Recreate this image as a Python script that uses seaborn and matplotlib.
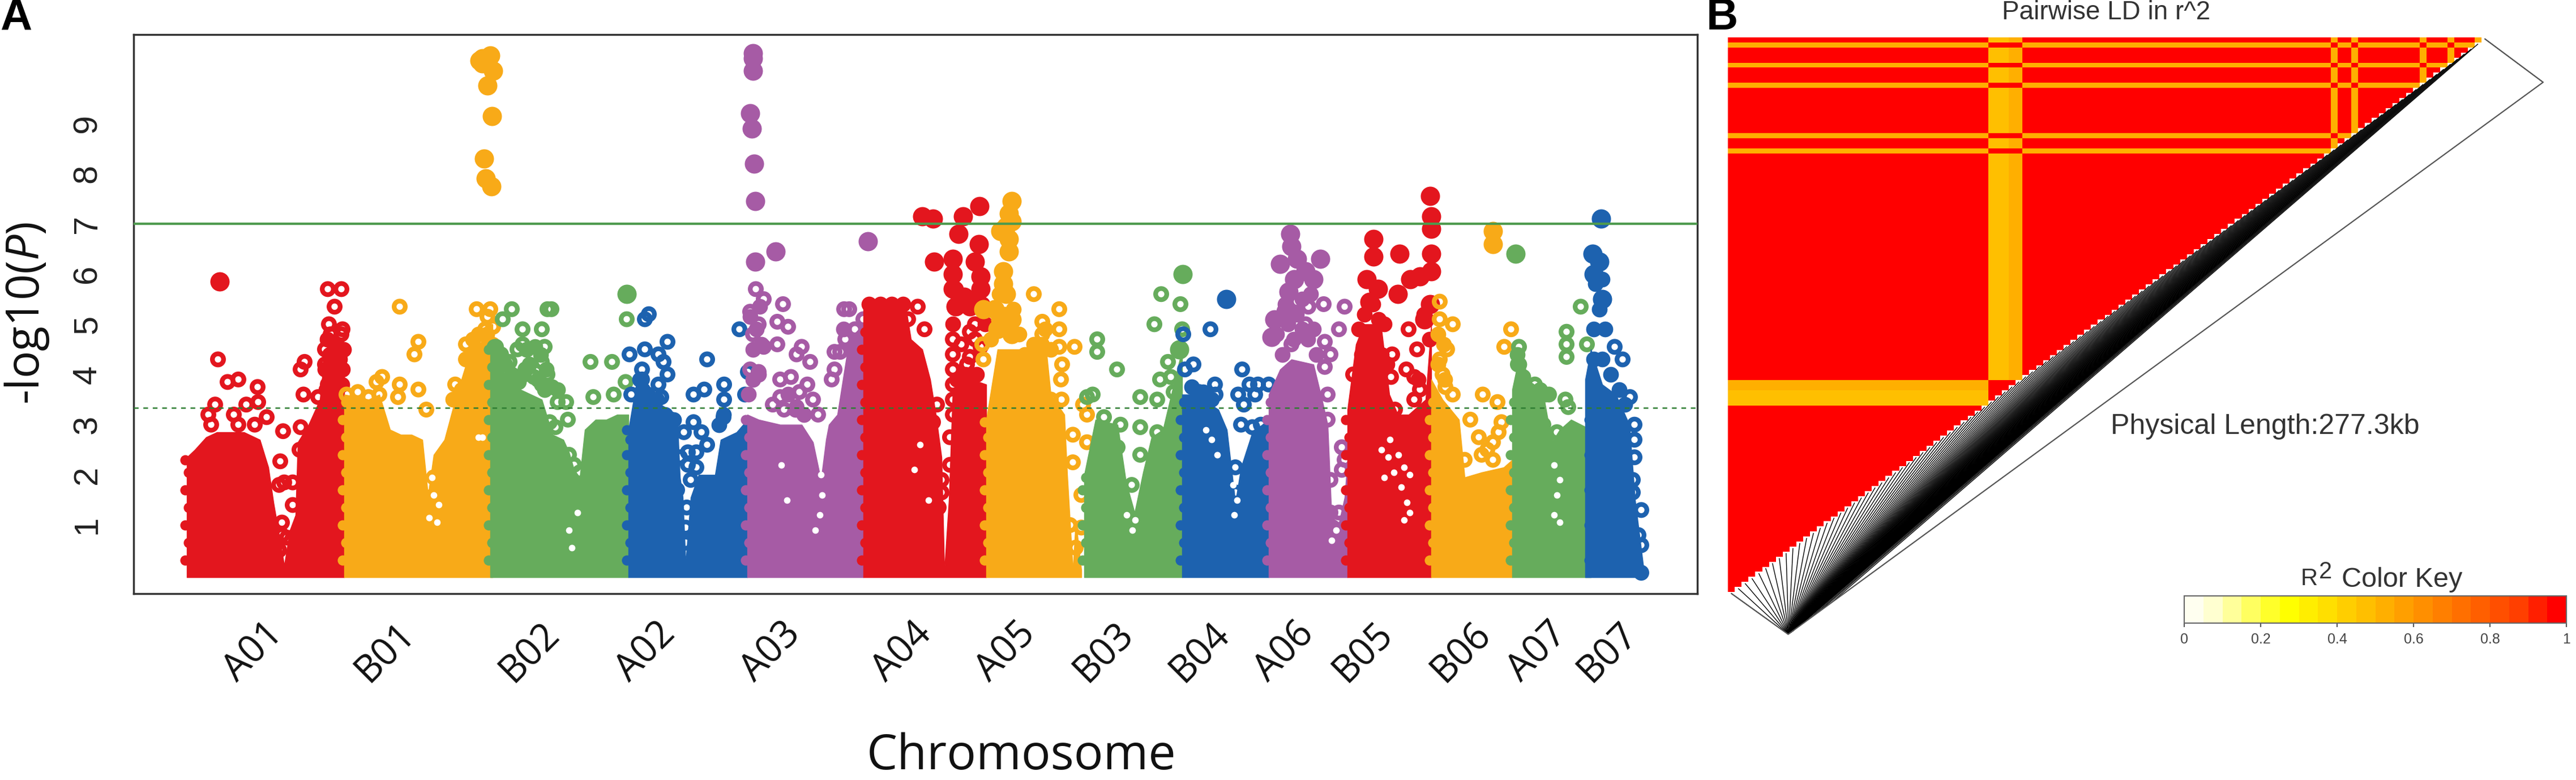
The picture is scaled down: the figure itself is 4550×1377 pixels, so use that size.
import numpy as np
import pandas as pd
import matplotlib
matplotlib.use('Agg')
import matplotlib.pyplot as plt
from matplotlib.colors import ListedColormap
import seaborn as sns

sns.set_theme(style='white')
plt.rcParams['font.family'] = ['Liberation Sans', 'DejaVu Sans']
plt.rcParams['mathtext.fontset'] = 'custom'
plt.rcParams['mathtext.it'] = 'Open Sans:italic'
plt.rcParams['mathtext.rm'] = 'Open Sans'

W, H = 4550, 1377

# Chromosome labels and where they sit along the genome axis
chrom_labels = ['A01', 'B01', 'B02', 'A02', 'A03', 'A04', 'A05', 'B03', 'B04', 'A06', 'B05', 'B06', 'A07', 'B07']
chrom_ticks = [448, 681, 936, 1141, 1362, 1594, 1777, 1950, 2120, 2269, 2408, 2581, 2716, 2840]
chrom_colors = ['#E3161E', '#F8AA18', '#66AC5C', '#1D62AF', '#A65BA5', '#E3161E', '#F8AA18',
                '#66AC5C', '#1D62AF', '#A65BA5', '#E3161E', '#F8AA18', '#66AC5C', '#1D62AF']

# Height of the dense mass of SNPs per chromosome
a01_pos = [330, 344, 364, 383, 402, 431, 459, 474, 483, 493, 502, 512, 522, 526, 545, 565, 574, 593, 608]
a01_top = [2.35, 2.5, 2.75, 2.85, 2.85, 2.85, 2.7, 2.15, 1.45, 0.8, 0.2, 0.9, 1.2, 2.65, 3.0, 3.5, 4.5, 4.7, 4.5]
b01_pos = [608, 632, 651, 670, 689, 708, 727, 746, 756, 766, 785, 804, 823, 842, 861, 870]
b01_top = [3.6, 3.55, 3.5, 3.6, 2.9, 2.8, 2.8, 2.7, 1.6, 2.4, 2.7, 3.5, 4.2, 4.4, 5.0, 5.0]
b02_pos = [866, 880, 900, 919, 938, 957, 976, 995, 1005, 1014, 1024, 1033, 1052, 1071, 1090, 1110]
b02_top = [4.6, 4.2, 3.9, 3.7, 3.6, 3.5, 2.8, 2.7, 2.45, 2.1, 1.95, 2.9, 3.1, 3.1, 3.2, 3.2]
a02_pos = [1110, 1119, 1148, 1167, 1196, 1201, 1206, 1211, 1220, 1234, 1263, 1273, 1301, 1320]
a02_top = [2.9, 3.5, 3.7, 3.4, 3.2, 1.95, 1.55, 0.25, 1.55, 2.0, 2.0, 2.7, 2.85, 3.1]
a03_pos = [1320, 1340, 1378, 1416, 1436, 1450, 1459, 1464, 1479, 1500, 1525]
a03_top = [3.2, 3.1, 3.0, 3.0, 2.65, 1.9, 2.7, 3.0, 3.2, 4.7, 5.0]
a04_pos = [1525, 1530, 1599, 1609, 1629, 1643, 1653, 1663, 1668, 1676, 1683, 1698, 1717, 1742]
a04_top = [5.3, 5.4, 5.4, 4.7, 4.5, 3.9, 3.2, 2.35, 0.1, 1.5, 3.7, 3.8, 3.9, 3.8]
a05_pos = [1742, 1762, 1797, 1816, 1846, 1856, 1880, 1885, 1895, 1900, 1910]
a05_top = [3.1, 4.5, 4.5, 4.5, 4.7, 3.6, 3.2, 2.0, 0.1, 1.1, 0.1]
b03_pos = [1915, 1935, 1974, 1989, 2004, 2019, 2034, 2054, 2073, 2088]
b03_top = [2.0, 3.1, 3.0, 1.85, 1.25, 2.05, 2.75, 2.9, 3.8, 4.5]
b04_pos = [2088, 2113, 2152, 2167, 2182, 2192, 2212, 2241]
b04_top = [3.6, 3.6, 3.3, 2.9, 1.45, 2.15, 2.85, 3.1]
a06_pos = [2241, 2261, 2281, 2320, 2335, 2345, 2352, 2365, 2375, 2380]
a06_top = [3.6, 4.1, 4.3, 4.2, 3.5, 3.0, 1.15, 1.05, 1.55, 2.3]
b05_pos = [2380, 2395, 2409, 2439, 2454, 2469, 2488, 2518, 2528]
b05_top = [3.3, 4.6, 5.0, 5.0, 3.6, 3.2, 3.2, 3.5, 5.0]
b06_pos = [2528, 2548, 2577, 2587, 2617, 2656, 2671]
b06_top = [3.9, 3.5, 3.1, 1.95, 2.05, 2.15, 2.3]
a07_pos = [2671, 2686, 2701, 2726, 2741, 2755, 2775, 2810]
a07_top = [3.7, 4.5, 3.8, 3.6, 2.65, 2.9, 3.1, 2.9]
b07_pos = [2800, 2810, 2830, 2854, 2878, 2888, 2904]
b07_top = [3.9, 4.5, 3.8, 3.6, 3.0, 1.5, 0.05]

# Single SNPs that stand clear of the mass (open circles)
a01_snp_pos = [385, 402, 421, 455, 380, 368, 373, 413, 435, 456, 471, 450, 421, 500, 495, 531, 538, 536, 562, 531, 529,
               502, 517, 493, 517, 498, 498, 507, 493, 579, 581, 605, 579, 603, 591, 574, 593, 584, 603, 574, 598, 584, 603]
a01_snp_log = [4.3, 3.85, 3.9, 3.75, 3.4, 3.2, 3.0, 3.2, 3.4, 3.45, 3.15, 3.0, 3.0, 2.87, 2.27, 4.1, 4.25, 3.6, 3.55, 2.95, 2.5,
               1.85, 1.85, 1.8, 1.4, 1.05, 0.8, 0.75, 0.5, 3.8, 5.0, 4.9, 5.7, 5.7, 5.35, 4.5, 4.6, 4.3, 4.5, 4.2, 4.2, 4.8, 4.8]
b01_snp_pos = [706, 739, 732, 675, 706, 665, 703, 739, 753, 632, 612, 651, 670, 627, 651, 766, 775, 756, 770,
               823, 842, 857, 871, 851, 823, 842, 804, 866, 861]
b01_snp_log = [5.35, 4.65, 4.4, 3.95, 3.8, 3.85, 3.55, 3.7, 3.3, 3.65, 3.6, 3.55, 3.6, 3.05, 3.05, 1.95, 2.0, 1.55, 1.3,
               4.6, 5.3, 4.9, 4.95, 4.7, 4.3, 4.2, 3.8, 5.3, 5.15]
b02_snp_pos = [904, 888, 876, 885, 900, 923, 957, 967, 974, 923, 962, 957, 928, 943, 967, 957, 914, 1000, 985, 1003,
               981, 1043, 1081, 1048, 1084, 1105, 1107, 1005, 1024, 1014, 957, 971]
b02_snp_log = [5.3, 5.1, 4.55, 4.4, 4.25, 4.9, 4.9, 5.3, 5.3, 4.6, 4.55, 4.25, 4.1, 3.95, 4.0, 3.8, 4.5, 3.45, 3.45, 3.1,
               2.95, 4.25, 4.25, 3.55, 3.6, 3.85, 5.1, 2.4, 2.05, 2.2, 2.85, 3.05]
a02_snp_pos = [1139, 1146, 1112, 1139, 1163, 1179, 1172, 1179, 1134, 1134, 1163, 1115, 1144, 1168, 1249, 1225, 1244, 1279, 1279,
               1278, 1306, 1321, 1316, 1225, 1208, 1239, 1215, 1249, 1230, 1201, 1215, 1230, 1196, 1220, 1213, 1211, 1211]
a02_snp_log = [5.1, 5.2, 4.4, 4.5, 4.4, 4.65, 4.25, 4.0, 4.1, 3.9, 3.8, 3.6, 3.6, 3.55, 4.3, 3.6, 3.7, 3.8, 3.5,
               3.15, 4.9, 4.05, 3.6, 3.05, 2.85, 2.85, 2.45, 2.6, 2.45, 2.35, 2.2, 2.15, 1.7, 1.9, 1.35, 0.95, 0.65]
a03_snp_pos = [1335, 1349, 1325, 1340, 1383, 1373, 1392, 1330, 1349, 1373, 1407, 1416, 1431, 1325, 1340, 1378, 1397, 1426,
               1469, 1436, 1378, 1407, 1474, 1491, 1493, 1500, 1510, 1525, 1515, 1474, 1484, 1365, 1385, 1412, 1445]
a03_snp_log = [5.7, 5.5, 5.25, 5.0, 5.4, 5.05, 4.95, 4.8, 4.55, 4.6, 4.4, 4.55, 4.25, 4.1, 4.05, 3.9, 3.95, 3.8,
               3.9, 3.5, 3.55, 3.35, 4.45, 5.3, 4.7, 5.3, 4.9, 5.1, 4.5, 4.1, 4.45, 3.4, 3.3, 3.65, 3.2]
a04_snp_pos = [1621, 1633, 1604, 1683, 1683, 1683, 1683, 1683, 1683, 1722, 1722, 1732, 1713, 1713, 1708, 1663, 1663, 1658,
               1655, 1648, 1678, 1678, 1698, 1713]
a04_snp_log = [5.35, 4.9, 5.1, 4.7, 4.4, 4.1, 3.8, 3.5, 3.2, 5.0, 4.7, 4.55, 4.35, 3.9, 4.2, 1.9, 1.65, 1.35,
               3.4, 3.05, 2.75, 2.2, 4.6, 4.85]
a05_snp_pos = [1826, 1871, 1841, 1871, 1841, 1898, 1871, 1876, 1874, 1737, 1735, 1913, 1920, 1895, 1920, 1895, 1910, 1890,
               1910, 1900, 1856, 1875, 1841]
a05_snp_log = [5.6, 5.3, 5.05, 4.9, 4.8, 4.55, 4.55, 4.2, 3.9, 4.3, 4.6, 3.4, 3.2, 2.8, 2.65, 2.25, 1.6, 1.0,
               0.95, 0.55, 3.5, 3.5, 2.15]
b03_snp_pos = [1938, 1938, 1973, 1930, 1920, 2051, 2085, 2039, 2088, 2014, 2049, 2068, 2044, 2073, 2063, 2014, 2044, 2014,
               1950, 1979, 1974, 1999]
b03_snp_log = [4.7, 4.45, 4.1, 3.6, 3.55, 5.6, 5.4, 5.0, 4.9, 3.55, 3.9, 3.95, 3.5, 3.65, 4.25, 2.95, 2.85, 2.4,
               3.15, 3.0, 2.55, 1.8]
b04_snp_pos = [2138, 2090, 2108, 2093, 2194, 2146, 2147, 2118, 2187, 2207, 2222, 2241, 2197, 2217, 2192, 2212, 2152, 2182,
               2182, 2227]
b04_snp_log = [4.9, 4.8, 4.2, 4.1, 4.1, 3.8, 3.6, 3.65, 3.6, 3.8, 3.8, 3.8, 3.4, 3.6, 3.0, 2.95, 2.55, 2.15,
               1.65, 3.0]
a06_snp_pos = [2375, 2338, 2365, 2340, 2350, 2340, 2345, 2345, 2370, 2375, 2350, 2370, 2365, 2350, 2370, 2365,
               2291, 2311, 2306, 2281]
a06_snp_log = [5.35, 5.4, 4.9, 4.65, 4.4, 4.15, 3.6, 3.1, 2.55, 2.3, 1.9, 2.1, 1.25, 1.25, 0.75, 0.45,
               5.45, 5.35, 5.0, 4.6]
b05_snp_pos = [2488, 2503, 2459, 2457, 2484, 2498, 2508, 2432, 2464, 2498, 2390, 2439, 2459, 2474, 2449]
b05_snp_log = [4.9, 4.5, 4.4, 3.95, 4.1, 3.95, 3.7, 3.5, 3.3, 3.5, 4.0, 2.4, 2.0, 1.65, 2.8]
b06_snp_pos = [2543, 2566, 2543, 2556, 2543, 2548, 2566, 2553, 2669, 2657, 2619, 2645, 2597, 2652, 2612, 2647, 2637,
               2617, 2627, 2587, 2637]
b06_snp_log = [5.45, 5.0, 5.1, 4.5, 4.3, 4.0, 3.6, 3.75, 4.9, 4.55, 3.6, 3.45, 3.1, 3.05, 2.75, 2.85, 2.65, 2.4, 2.5, 2.3, 2.3]
a07_snp_pos = [2792, 2767, 2767, 2767, 2803, 2683, 2681, 2711, 2736, 2765, 2770, 2726, 2750, 2731]
a07_snp_log = [5.35, 4.85, 4.6, 4.35, 4.6, 4.55, 4.2, 3.8, 3.6, 3.5, 3.35, 3.0, 2.85, 2.75]
b07_snp_pos = [2852, 2866, 2879, 2887, 2887, 2887, 2884, 2884, 2899, 2894, 2899, 2899]
b07_snp_log = [4.55, 4.3, 3.55, 3.0, 2.7, 2.35, 1.9, 1.65, 1.3, 0.8, 0.6, 0.05]

# SNPs so tightly stacked they read as large filled dots
solid_chrom = [0, 1, 1, 1, 1, 1, 1, 1, 1, 1, 1, 2, 4, 4, 4, 4, 4, 4, 4, 4, 4, 4,
               5, 5, 5, 5, 5, 5, 5, 5, 5, 5, 5, 5, 5, 5, 5, 5,
               6, 6, 6, 6, 6, 6, 6, 6, 6, 6, 6, 6, 6, 6, 6, 6,
               7, 7,
               9, 9, 9, 9, 9, 9, 9, 9, 9, 9, 9, 9,
               10, 10, 10, 10, 10, 10, 10, 10, 10, 10, 10, 10, 10, 10, 10, 10,
               11, 11, 12, 13, 13, 13, 13, 13, 8]
solid_pos = [388, 852, 866, 852, 871, 861, 869, 855, 858, 868, 847, 1107, 1330, 1330, 1330, 1325, 1328, 1332, 1334, 1334, 1370, 1533,
             1629, 1648, 1730, 1701, 1650, 1693, 1729, 1683, 1722, 1683, 1732, 1683, 1732, 1688, 1713, 1703,
             1787, 1782, 1777, 1767, 1787, 1782, 1782, 1772, 1772, 1777, 1737, 1757, 1767, 1787, 1787, 1762,
             2083, 2089,
             2279, 2281, 2261, 2291, 2332, 2306, 2286, 2276, 2320, 2251, 2271, 2246,
             2426, 2426, 2472, 2526, 2528, 2528, 2528, 2528, 2508, 2491, 2469, 2414, 2434, 2419, 2526, 2516,
             2637, 2637, 2677, 2828, 2813, 2825, 2815, 2830, 2166]
solid_log = [5.85, 10.3, 10.35, 10.2, 10.05, 9.75, 9.15, 8.3, 7.9, 7.75, 10.25, 5.6, 10.4, 10.3, 10.05, 9.2, 8.9, 8.2, 7.45, 6.25, 6.45, 6.65,
             7.15, 7.1, 7.35, 7.15, 6.25, 6.8, 6.6, 6.3, 6.25, 6.0, 5.95, 5.7, 5.7, 5.35, 5.35, 5.55,
             7.45, 7.2, 6.95, 6.85, 7.05, 6.7, 6.45, 6.05, 5.8, 5.6, 5.3, 5.3, 5.1, 5.1, 4.8, 4.9,
             4.5, 6.0,
             6.8, 6.55, 6.2, 6.3, 6.3, 6.05, 5.9, 5.65, 5.9, 5.1, 5.25, 4.75,
             6.7, 6.35, 6.4, 7.55, 7.15, 6.9, 6.4, 6.05, 5.95, 5.9, 5.6, 5.9, 5.7, 5.45, 5.4, 5.1,
             6.85, 6.6, 6.4, 7.1, 6.4, 6.25, 6.0, 5.5, 5.5]

# Towers where rings pile up without showing a hole
stack_chrom = [0, 0, 0, 0, 0, 0, 0, 0, 0, 0, 0,
               1, 1, 1, 1, 1, 1, 1, 1, 1, 1,
               2, 2, 2, 2, 2, 2, 2, 2, 2, 2, 2, 2, 2, 2, 2,
               3, 3, 3, 3, 3, 3, 3, 3,
               4, 4, 4, 4, 4, 4, 4, 4, 4, 4, 4, 4, 4, 4, 4,
               5, 5, 5, 5, 5, 5, 5, 5, 5, 5, 5, 5, 5,
               6, 6, 6, 6, 6, 6, 6, 6, 6, 6, 6, 6,
               8, 8, 8,
               9, 9, 9, 9, 9, 9, 9, 9, 9, 9, 9, 9,
               10, 10, 10, 10, 10, 10, 10, 10, 10, 10, 10, 10,
               11, 11, 11, 11,
               12, 12, 12, 12, 12, 12,
               13, 13, 13, 13, 13, 13, 13, 13, 13, 13]
stack_pos = [576, 590, 604, 574, 590, 605, 582, 600, 578, 594, 607,
             825, 840, 855, 845, 860, 870, 830, 815, 800, 835,
             873, 882, 892, 904, 916, 925, 935, 930, 945, 955, 965, 950, 975, 962, 985,
             1135, 1130, 1145, 1160, 1175, 1190, 1270, 1278,
             1322, 1330, 1340, 1330, 1336, 1325, 1342, 1345, 1392, 1405, 1420, 1490, 1505, 1515, 1510,
             1535, 1555, 1575, 1595, 1688, 1703, 1718, 1735, 1683, 1740, 1690, 1705, 1725,
             1765, 1775, 1790, 1785, 1770, 1800, 1750, 1810, 1826, 1846, 1840, 1856,
             2105, 2125, 2140,
             2255, 2265, 2275, 2290, 2300, 2310, 2320, 2285, 2300, 2270, 2315, 2325,
             2400, 2410, 2425, 2435, 2445, 2420, 2405, 2440, 2450, 2515, 2525, 2505,
             2540, 2550, 2540, 2552,
             2683, 2690, 2700, 2680, 2720, 2730,
             2815, 2825, 2818, 2830, 2835, 2815, 2830, 2845, 2860, 2870]
stack_log = [3.7, 3.7, 3.8, 4.1, 4.0, 4.1, 4.4, 4.3, 4.7, 4.6, 4.5,
             4.3, 4.5, 4.5, 4.8, 4.8, 4.6, 3.9, 3.7, 3.5, 4.7,
             4.55, 4.4, 4.2, 4.0, 3.85, 4.0, 4.2, 4.5, 4.55, 4.4, 4.1, 3.9, 3.75, 3.7, 3.7,
             3.7, 3.9, 3.5, 3.5, 3.2, 3.1, 3.0, 3.2,
             3.6, 3.9, 4.0, 4.5, 4.9, 5.15, 5.35, 4.6, 3.6, 3.3, 3.2, 4.9, 4.5, 4.2, 3.9,
             5.4, 5.4, 5.4, 5.4, 5.7, 5.4, 5.5, 5.4, 5.0, 5.0, 3.9, 4.0, 4.0,
             5.6, 5.2, 5.3, 4.9, 4.9, 4.8, 4.7, 4.4, 4.6, 4.9, 4.6, 4.5,
             3.75, 3.65, 3.5,
             4.8, 4.4, 5.0, 5.2, 4.9, 4.7, 4.9, 4.7, 5.5, 5.4, 5.6, 4.4,
             4.9, 5.2, 5.4, 5.1, 5.0, 4.7, 4.4, 4.4, 4.2, 5.2, 4.7, 3.9,
             4.8, 4.6, 4.2, 3.9,
             4.2, 3.95, 3.7, 4.4, 3.7, 3.6,
             4.9, 5.3, 5.8, 5.9, 4.9, 4.3, 4.3, 4.0, 3.7, 3.4]

# Left flank of each chromosome, where its SNPs bite into the previous colour
flank_chrom = [0, 0, 0, 0, 0, 0, 0,
               1, 1, 1, 1, 1, 1, 1, 1, 1, 1,
               2, 2, 2, 2, 2, 2, 2, 2, 2, 2, 2, 2, 2,
               3, 3, 3, 3, 3, 3, 3, 3, 3,
               4, 4, 4, 4, 4, 4, 4, 4, 4,
               5, 5, 5, 5, 5, 5, 5, 5, 5, 5, 5, 5, 5, 5,
               6, 6, 6, 6, 6, 6, 6, 6, 6,
               7, 7, 7, 7, 7, 7,
               8, 8, 8, 8, 8, 8, 8, 8, 8, 8,
               9, 9, 9, 9, 9, 9, 9, 9, 9, 9,
               10, 10, 10, 10, 10, 10, 10, 10, 10,
               11, 11, 11, 11, 11, 11, 11, 11, 11, 11,
               12, 12, 12, 12, 12, 12, 12, 12, 12, 12,
               13, 13, 13, 13, 13, 13, 13, 13, 13, 13]
flank_pos = [327, 333, 327, 333, 327, 333, 327,
             605, 611, 605, 611, 605, 611, 605, 611, 605, 611,
             863, 869, 863, 869, 863, 869, 863, 869, 863, 869, 863, 869, 863,
             1107, 1113, 1107, 1113, 1107, 1113, 1107, 1113, 1107,
             1317, 1323, 1317, 1323, 1317, 1323, 1317, 1323, 1317,
             1522, 1528, 1522, 1528, 1522, 1528, 1522, 1528, 1522, 1528, 1522, 1528, 1522, 1528,
             1739, 1745, 1739, 1745, 1739, 1745, 1739, 1745, 1739,
             1912, 1918, 1912, 1918, 1912, 1918,
             2085, 2091, 2085, 2091, 2085, 2091, 2085, 2091, 2085, 2091,
             2238, 2244, 2238, 2244, 2238, 2244, 2238, 2244, 2238, 2244,
             2377, 2383, 2377, 2383, 2377, 2383, 2377, 2383, 2377,
             2525, 2531, 2525, 2531, 2525, 2531, 2525, 2531, 2525, 2531,
             2668, 2674, 2668, 2674, 2668, 2674, 2668, 2674, 2668, 2674,
             2807, 2813, 2807, 2813, 2807, 2813, 2807, 2813, 2807, 2813]
flank_log = [0.3, 0.65, 1.0, 1.35, 1.7, 2.05, 2.3,
             0.3, 0.65, 1.0, 1.35, 1.7, 2.05, 2.4, 2.75, 3.1, 3.45,
             0.3, 0.65, 1.0, 1.35, 1.7, 2.05, 2.4, 2.75, 3.1, 3.45, 3.8, 4.15, 4.5,
             0.3, 0.65, 1.0, 1.35, 1.7, 2.05, 2.4, 2.7, 2.9,
             0.3, 0.65, 1.0, 1.35, 1.7, 2.05, 2.4, 2.75, 3.1,
             0.3, 0.65, 1.0, 1.35, 1.7, 2.05, 2.4, 2.75, 3.1, 3.45, 3.8, 4.15, 4.5, 4.85,
             0.3, 0.65, 1.0, 1.35, 1.7, 2.05, 2.4, 2.75, 3.05,
             0.3, 0.65, 1.0, 1.35, 1.7, 1.95,
             0.3, 0.65, 1.0, 1.35, 1.7, 2.05, 2.4, 2.75, 3.1, 3.45,
             0.3, 0.65, 1.0, 1.35, 1.7, 2.05, 2.4, 2.75, 3.1, 3.45,
             0.3, 0.65, 1.0, 1.35, 1.7, 2.05, 2.4, 2.75, 3.1,
             0.3, 0.65, 1.0, 1.35, 1.7, 2.05, 2.4, 2.75, 3.1, 3.45,
             0.3, 0.65, 1.0, 1.35, 1.7, 2.05, 2.4, 2.75, 3.1, 3.45,
             0.3, 0.65, 1.0, 1.35, 1.7, 2.05, 2.4, 2.75, 3.1, 3.45]

# Gaps inside the mass where the white shows through ring centres
gap_pos = [2440, 2452, 2470, 2480, 2462, 2445, 2490, 2475, 2485, 2490, 2480, 2455,
           766, 775, 763, 758, 772, 845, 852,
           1450, 1452, 1448, 1440, 1390, 1380,
           1005, 1010, 1020, 1625, 1640, 1615, 2360, 2352,
           2130, 2150, 2140, 2178, 2185, 2180,
           1990, 2005, 2000, 2745, 2755, 2750, 2745, 2755]
gap_log = [2.5, 2.35, 2.4, 2.15, 2.05, 1.95, 2.0, 1.75, 1.45, 1.25, 1.1, 2.7,
           1.6, 1.4, 1.95, 1.15, 1.05, 2.75, 2.75,
           2.0, 1.6, 1.2, 0.9, 1.5, 2.2,
           0.9, 0.55, 1.25, 2.6, 1.5, 2.1, 0.9, 0.7,
           2.9, 2.4, 2.7, 1.8, 1.5, 1.2,
           1.2, 1.1, 0.9, 2.2, 1.9, 1.6, 1.2, 1.05]

body_pos = [a01_pos, b01_pos, b02_pos, a02_pos, a03_pos, a04_pos, a05_pos, b03_pos, b04_pos, a06_pos, b05_pos, b06_pos, a07_pos, b07_pos]
body_top = [a01_top, b01_top, b02_top, a02_top, a03_top, a04_top, a05_top, b03_top, b04_top, a06_top, b05_top, b06_top, a07_top, b07_top]
snp_pos = [a01_snp_pos, b01_snp_pos, b02_snp_pos, a02_snp_pos, a03_snp_pos, a04_snp_pos, a05_snp_pos, b03_snp_pos,
           b04_snp_pos, a06_snp_pos, b05_snp_pos, b06_snp_pos, a07_snp_pos, b07_snp_pos]
snp_log = [a01_snp_log, b01_snp_log, b02_snp_log, a02_snp_log, a03_snp_log, a04_snp_log, a05_snp_log, b03_snp_log,
           b04_snp_log, a06_snp_log, b05_snp_log, b06_snp_log, a07_snp_log, b07_snp_log]

# Thresholds
sig_line = 7.0
sug_line = 3.33

# Panel B: r2 class of each SNP, and its physical position in kb
ld_r2 = [1, 1, 1, 1, 1, 1, 1, 1, 1, 1,
         1, 1, 1, 1, 1, 1, 1, 1, 1, 1,
         1, 1, 1, 1, 1, 1, 1, 1, 1, 1,
         1, 1, 1, 1, 1, 1, 1, 1, 0.47, 0.47,
         0.47, 0.52, 0.52, 1, 1, 1, 1, 1, 1, 1,
         1, 1, 1, 1, 1, 1, 1, 1, 1, 1,
         1, 1, 1, 1, 1, 1, 1, 1, 1, 1,
         1, 1, 1, 1, 1, 1, 1, 1, 1, 1,
         1, 1, 1, 1, 1, 1, 1, 1, 0.52, 1,
         1, 0.5, 1, 1, 1, 1, 1, 1, 1, 1,
         1, 0.52, 1, 1, 1, 0.52, 1, 1, 1, 0.52,
         1]
ld_kb = [0.00, 0.02, 0.04, 0.06, 0.08, 0.10, 0.12, 0.14, 0.16, 0.18,
         0.20, 0.22, 0.24, 0.26, 0.28, 0.30, 0.32, 0.34, 0.36, 0.38,
         0.40, 0.42, 0.44, 0.46, 0.48, 0.50, 0.52, 0.54, 0.56, 0.58,
         0.60, 0.62, 0.64, 0.66, 0.68, 0.70, 0.72, 0.74, 0.76, 0.78,
         0.80, 0.82, 0.84, 0.86, 0.88, 0.90, 0.92, 0.94, 0.96, 0.98,
         1.00, 1.01, 1.02, 1.03, 1.04, 1.05, 1.06, 1.07, 1.08, 1.09,
         1.10, 1.11, 1.12, 1.13, 1.14, 1.15, 1.16, 1.17, 1.18, 1.19,
         1.20, 1.21, 1.22, 1.23, 1.24, 1.25, 1.26, 1.27, 1.28, 1.29,
         1.30, 1.31, 1.32, 1.33, 1.34, 1.35, 1.36, 1.37, 1.38, 1.39,
         1.40, 1.41, 1.42, 1.43, 1.44, 1.45, 1.46, 1.47, 1.48, 1.49,
         1.50, 1.52, 1.54, 1.56, 1.58, 1.60, 4.0, 7.5, 11.0, 15.5,
         277.3]
key_bins = [0.025, 0.075, 0.125, 0.175, 0.225, 0.275, 0.325, 0.375, 0.425, 0.475,
            0.525, 0.575, 0.625, 0.675, 0.725, 0.775, 0.825, 0.875, 0.925, 0.975]
key_colors = ['#FFFFF0', '#FFFFD0', '#FFFF9A', '#FFFF60', '#FFFF2A', '#FFFF00', '#FFEE00', '#FFDF00', '#FFCE00', '#FFBF00',
              '#FFAF00', '#FF9F00', '#FF8F00', '#FF7F00', '#FF6F00', '#FF5F00', '#FF4F00', '#FF3F00', '#FF1F00', '#FF0000']
key_ticks = [0, 0.2, 0.4, 0.6, 0.8, 1]
key_tick_labels = ['0', '0.2', '0.4', '0.6', '0.8', '1']


def px_axes(fig, left, top, right, bottom):
    return fig.add_axes([left / W, 1 - bottom / H, (right - left) / W, (bottom - top) / H])


def px_text(fig, x, y, s, **kw):
    kw.setdefault('ha', 'center')
    kw.setdefault('va', 'center')
    return fig.text(x / W, 1 - y / H, s, **kw)


fig = plt.figure(figsize=(W / 100, H / 100), dpi=100, facecolor='white')

# Panel A
ax = px_axes(fig, 236, 61, 2998, 1048)
solid = pd.DataFrame({'chrom': solid_chrom, 'pos': solid_pos, 'log': solid_log})
stack = pd.DataFrame({'chrom': stack_chrom, 'pos': stack_pos, 'log': stack_log})
flank = pd.DataFrame({'chrom': flank_chrom, 'pos': flank_pos, 'log': flank_log})
gaps = pd.DataFrame({'pos': gap_pos, 'log': gap_log})
for i, col in enumerate(chrom_colors):
    z = 2 + i * 0.1
    ax.fill_between(body_pos[i], -0.04, body_top[i], color=col, lw=1, zorder=z)
    rings = pd.DataFrame({'pos': snp_pos[i], 'log': snp_log[i]})
    sns.scatterplot(data=rings, x='pos', y='log', s=200, marker='o', facecolors='none', edgecolor=col,
                    linewidth=6, ax=ax, zorder=z + 0.02, legend=False)
    sns.scatterplot(data=flank[flank['chrom'] == i], x='pos', y='log', s=170, color=col, linewidth=0,
                    ax=ax, zorder=z + 0.03, legend=False)
    sns.scatterplot(data=stack[stack['chrom'] == i], x='pos', y='log', s=400, color=col, linewidth=0,
                    ax=ax, zorder=z + 0.04, legend=False)
    sns.scatterplot(data=solid[solid['chrom'] == i], x='pos', y='log', s=600, color=col, linewidth=0,
                    ax=ax, zorder=z + 0.06, legend=False)
sns.scatterplot(data=gaps, x='pos', y='log', s=70, color='white', linewidth=0, ax=ax, zorder=4, legend=False)

ax.axhline(sig_line, color='#4E9A4E', lw=3, zorder=5)
ax.axhline(sug_line, color='#2E7D32', lw=2, ls=(0, (3, 3)), alpha=0.9, zorder=5)

ax.set_xlim(236, 2998)
ax.set_ylim(-0.366, 10.77)
ax.set_xticks(chrom_ticks)
ax.set_xticklabels(chrom_labels, rotation=45, ha='center', va='top', family='Open Sans', fontsize=48, color='#111111')
ax.set_yticks([1, 2, 3, 4, 5, 6, 7, 8, 9])
ax.set_yticklabels(['1', '2', '3', '4', '5', '6', '7', '8', '9'], rotation=90, va='center', fontsize=43, color='#222222')
ax.tick_params(axis='x', length=0, pad=27)
ax.tick_params(axis='y', length=0, pad=39)
ax.set_xlabel('')
ax.set_ylabel('')
for sp in ax.spines.values():
    sp.set_visible(True)
    sp.set_color('#333333')
    sp.set_linewidth(2.5)

px_text(fig, 48, 553, r'-log10($\mathit{P}$)', rotation=90, family='Open Sans', fontsize=58, color='#111111')
px_text(fig, 1804, 1336, 'Chromosome', family='Open Sans', fontsize=62, color='#111111')
px_text(fig, 28, 32, 'A', fontsize=56, fontweight='bold', color='black')
px_text(fig, 3042, 32, 'B', fontsize=56, fontweight='bold', color='black', zorder=10)

# Panel B: LD triangle, 110 cells in each direction
n_cells = len(ld_r2) - 1
cell_w = 12.1
cell_h = 8.9
ax_b = px_axes(fig, 3052, 66, 3052 + 122 * cell_w, 66 + 122 * cell_h)
ax_b.patch.set_alpha(0)
r2 = np.array(ld_r2, dtype=float)
ld = np.ones((n_cells, n_cells))
mask = np.ones((n_cells, n_cells), dtype=bool)
for row in range(n_cells):
    for col_j in range(n_cells - row):
        low_a, low_b = r2[col_j], r2[n_cells - row]
        mask[row, col_j] = False
        if low_a < 1 and low_b < 1:
            ld[row, col_j] = 1.0
        else:
            ld[row, col_j] = min(low_a, low_b)
heat = ListedColormap(key_colors)
sns.heatmap(ld, mask=mask, cmap=heat, vmin=0, vmax=1, cbar=False, xticklabels=False, yticklabels=False, ax=ax_b, linewidths=0)
ax_b.set_xlim(0, 122)
ax_b.set_ylim(122, 0)
ax_b.axis('off')

# Map from the diagonal down to the physical position line
line_x0, line_y0 = 8.8, 118.4
line_dx, line_dy = 110.2, -109.5
total_kb = 277.3
for k, kb in enumerate(ld_kb):
    f = kb / total_kb
    ax_b.plot([k + 0.5, line_x0 + f * line_dx], [n_cells + 0.3 - k, line_y0 + f * line_dy], color='black', lw=1.0, solid_capstyle='butt', zorder=3)
ax_b.plot([0.5, line_x0, line_x0 + line_dx, n_cells + 0.5],
          [n_cells + 0.3, line_y0, line_y0 + line_dy, 0.3], color='#555555', lw=1.6, zorder=3)

px_text(fig, 3720, 22, 'Pairwise LD in r^2', fontsize=33, color='#333333')
px_text(fig, 4001, 753, 'Physical Length:277.3kb', fontsize=36, color='#333333')

# Colour key
ax_key = px_axes(fig, 3858, 1052, 4533, 1100)
sns.heatmap(np.array([key_bins]), cmap=heat, vmin=0, vmax=1, cbar=False, ax=ax_key, xticklabels=False, yticklabels=False)
ax_key.set_xticks([t * len(key_bins) for t in key_ticks])
ax_key.set_xticklabels(key_tick_labels, rotation=0, fontsize=18, color='#444444')
ax_key.tick_params(axis='x', length=5, width=1.5, color='#555555', pad=7, bottom=True)
ax_key.set_yticks([])
for sp in ax_key.spines.values():
    sp.set_visible(True)
    sp.set_color('#666666')
    sp.set_linewidth(1.5)

px_text(fig, 4079, 1022, 'R', fontsize=30, color='#333333')
px_text(fig, 4108, 1010, '2', fontsize=30, color='#333333')
px_text(fig, 4243, 1024, 'Color Key', fontsize=35, color='#333333')

fig.savefig('out.png', dpi=100, facecolor='white')
